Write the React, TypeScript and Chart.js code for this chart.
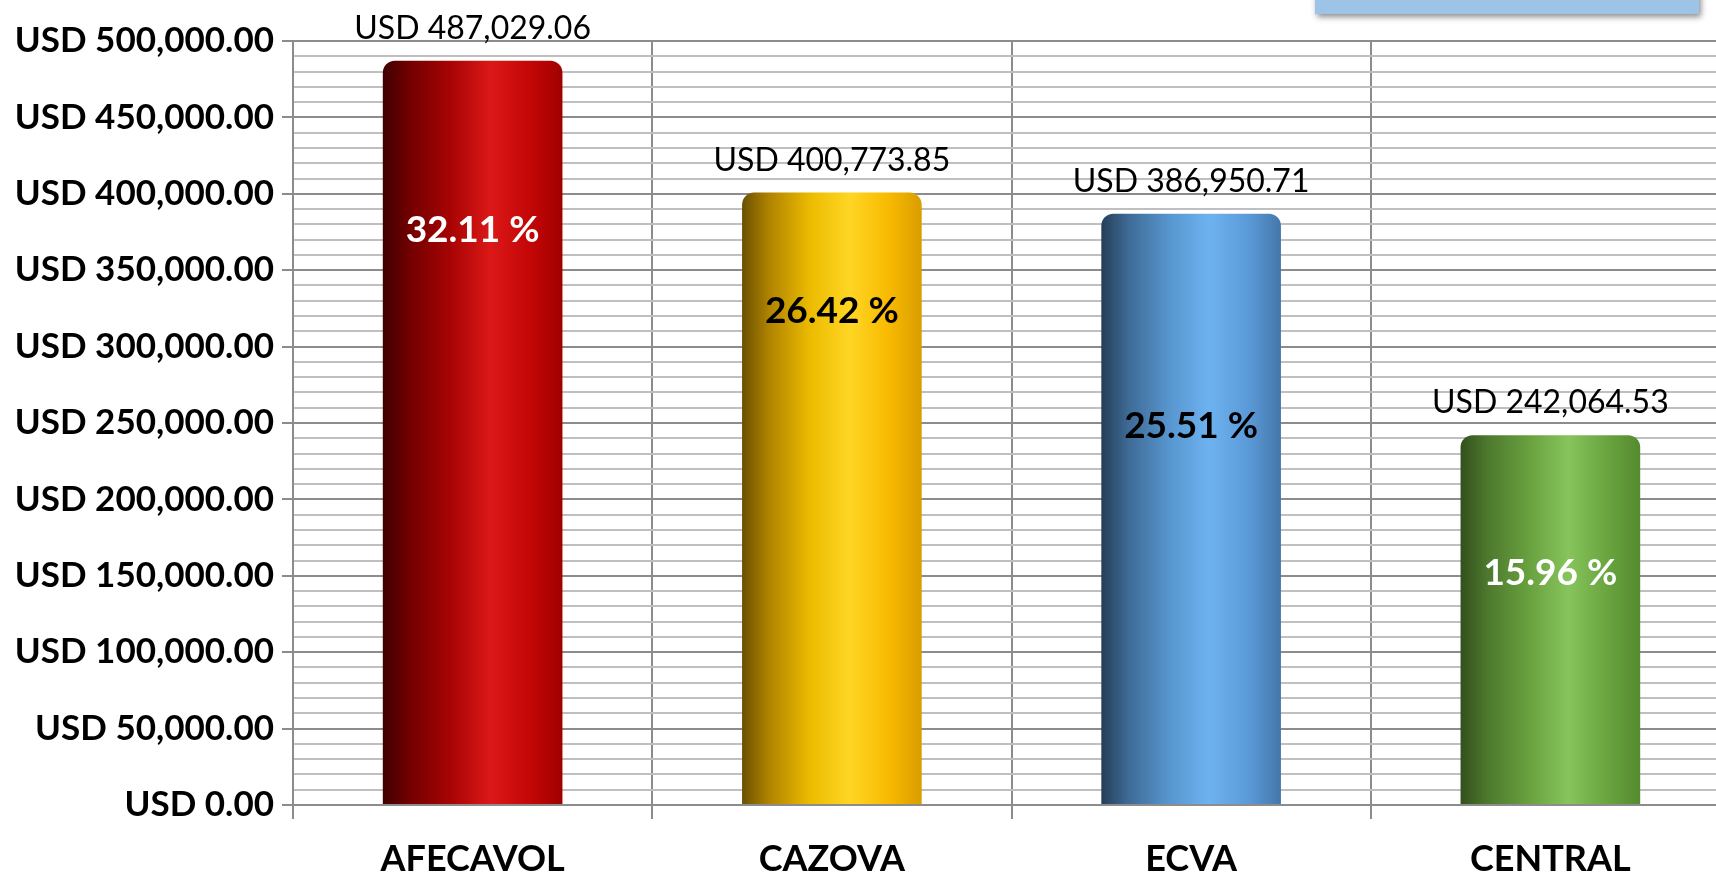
import React, { useEffect, useRef } from "react";
import { Chart, registerables } from "chart.js";

Chart.register(...registerables);

const categories = ["AFECAVOL", "CAZOVA", "ECVA", "CENTRAL"];
const amounts = [487029.06, 400773.85, 386950.71, 242064.53];
const shares = ["32.11 %", "26.42 %", "25.51 %", "15.96 %"];
// value (in USD units) at which each percentage label sits inside its bar
const shareLabelAt = [376300, 323300, 248000, 151800];
const shareLabelColors = ["#ffffff", "#000000", "#000000", "#ffffff"];
const barStops = [
  ["#3f0000", "#720000", "#a80404", "#dc1818", "#c40606", "#a00000"],
  ["#6a5000", "#b08300", "#ecbb00", "#ffd624", "#f8b900", "#d99d00"],
  ["#253e58", "#3e6a95", "#5896cf", "#6db2f0", "#5b9ad8", "#4477aa"],
  ["#33501d", "#4d782d", "#68a13f", "#87c45b", "#69a43f", "#558a30"],
];
const yMax = 500000;
const yMinorStep = 10000;
const yMajorStep = 50000;

const FONT = "Lato, 'Open Sans', sans-serif";

const fmt = (v: number) =>
  "USD " + v.toLocaleString("en-US", { minimumFractionDigits: 2, maximumFractionDigits: 2 });

const labelsPlugin = {
  id: "barLabels",
  afterDatasetsDraw(chart: any) {
    const ctx = chart.ctx;
    const meta = chart.getDatasetMeta(0);
    const y = chart.scales.y;
    ctx.save();
    ctx.textAlign = "center";
    ctx.textBaseline = "middle";
    meta.data.forEach((bar: any, i: number) => {
      ctx.fillStyle = "#000000";
      ctx.font = `400 32px ${FONT}`;
      ctx.fillText(fmt(amounts[i]), bar.x, bar.y - 32);
      ctx.fillStyle = shareLabelColors[i];
      ctx.font = `700 37px ${FONT}`;
      ctx.fillText(shares[i], bar.x, y.getPixelForValue(shareLabelAt[i]));
    });
    ctx.restore();
  },
};

const boxPlugin = {
  id: "topBox",
  afterDraw(chart: any) {
    const ctx = chart.ctx;
    ctx.save();
    ctx.shadowColor = "rgba(0,0,0,0.45)";
    ctx.shadowBlur = 6;
    ctx.shadowOffsetX = 2;
    ctx.shadowOffsetY = 3;
    ctx.fillStyle = "#9dc3e6";
    ctx.fillRect(1315, -10, 384, 24);
    ctx.restore();
  },
};

export default function App() {
  const ref = useRef<HTMLCanvasElement | null>(null);

  useEffect(() => {
    if (!ref.current) return;
    const chart = new Chart(ref.current, {
      type: "bar",
      data: {
        labels: categories,
        datasets: [
          {
            data: amounts,
            backgroundColor: (c: any) => {
              const ch = c.chart;
              const xs = ch.scales?.x;
              if (!xs || !ch.chartArea) return barStops[c.dataIndex][3];
              const cx = xs.getPixelForValue(c.dataIndex);
              const w = (ch.chartArea.right - ch.chartArea.left) / categories.length * 0.5;
              const g = ch.ctx.createLinearGradient(cx - w / 2, 0, cx + w / 2, 0);
              const s = barStops[c.dataIndex];
              const pos = [0, 0.15, 0.38, 0.6, 0.82, 1];
              s.forEach((col, k) => g.addColorStop(pos[k], col));
              return g;
            },
            borderWidth: 0,
            borderRadius: { topLeft: 12, topRight: 12, bottomLeft: 0, bottomRight: 0 },
            borderSkipped: false,
            barPercentage: 0.5,
            categoryPercentage: 1,
          },
        ],
      },
      options: {
        animation: false,
        responsive: true,
        maintainAspectRatio: false,
        layout: { padding: { top: 41, right: 5, left: 0, bottom: 0 } },
        plugins: { legend: { display: false }, tooltip: { enabled: false } },
        scales: {
          x: {
            grid: {
              color: "#8c8c8c",
              lineWidth: 2,
              tickLength: 14,
              offset: true,
            },
            border: { color: "#8c8c8c", width: 2 },
            ticks: {
              color: "#000000",
              font: { family: FONT, size: 36, weight: "bold" },
              padding: 19,
            },
            afterFit: (s: any) => {
              s.height = 71;
            },
          },
          y: {
            min: 0,
            max: yMax,
            grid: {
              color: (c: any) => (c.tick && c.tick.value % yMajorStep === 0 ? "#8c8c8c" : "#bfbfbf"),
              tickColor: (c: any) => (c.tick && c.tick.value % yMajorStep === 0 ? "#8c8c8c" : "rgba(0,0,0,0)"),
              lineWidth: 2,
              tickLength: 11,
            },
            border: { color: "#8c8c8c", width: 2 },
            ticks: {
              stepSize: yMinorStep,
              autoSkip: false,
              color: "#000000",
              font: { family: FONT, size: 35, weight: "bold" },
              padding: 8,
              callback: (v: any) => (Number(v) % yMajorStep === 0 ? fmt(Number(v)) : ""),
            },
            afterFit: (s: any) => {
              s.width = 293;
            },
          },
        },
      },
      plugins: [labelsPlugin, boxPlugin],
    });
    return () => chart.destroy();
  }, []);

  return (
    <div style={{ position: "fixed", left: 0, top: 0, width: 1716, height: 876, overflow: "hidden", background: "#fff" }}>
      <div style={{ position: "relative", width: 1735, height: 876 }}>
        <canvas ref={ref} />
      </div>
    </div>
  );
}
